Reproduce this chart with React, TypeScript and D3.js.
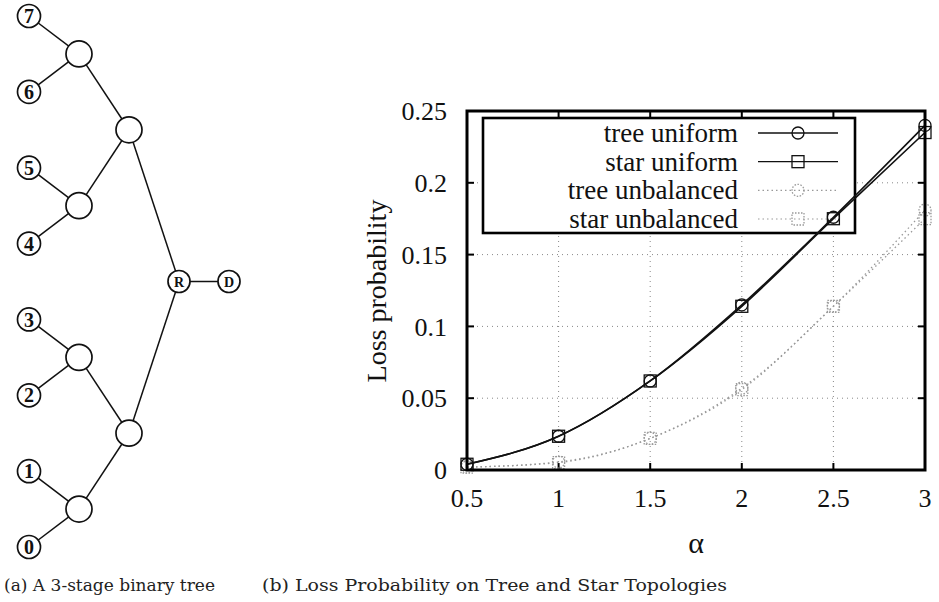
import React from "react";
import * as d3 from "d3";

// ---------- data ----------
const alphas = [0.5, 1, 1.5, 2, 2.5, 3];
const treeUniform = [0.004, 0.0235, 0.062, 0.115, 0.176, 0.24];
const starUniform = [0.004, 0.0235, 0.062, 0.114, 0.175, 0.235];
const treeUnbalanced = [0.002, 0.0056, 0.022, 0.057, 0.114, 0.181];
const starUnbalanced = [0.002, 0.0052, 0.022, 0.056, 0.114, 0.175];
const xTicks = [0.5, 1, 1.5, 2, 2.5, 3];
const yTicks = [0, 0.05, 0.1, 0.15, 0.2, 0.25];
const seriesNames = ["tree uniform", "star uniform", "tree unbalanced", "star unbalanced"];

// tree structure: leaves 0..7, binary tree of 3 stages, root R -> D
const treeData = {
  name: "R",
  children: [
    { name: "", children: [
      { name: "", children: [{ name: "0" }, { name: "1" }] },
      { name: "", children: [{ name: "2" }, { name: "3" }] },
    ] },
    { name: "", children: [
      { name: "", children: [{ name: "4" }, { name: "5" }] },
      { name: "", children: [{ name: "6" }, { name: "7" }] },
    ] },
  ],
};

const serif = "Liberation Serif, Times New Roman, serif";
const capSerif = "DejaVu Serif, serif";

function Tree() {
  const root = d3.hierarchy(treeData);
  const leafY = d3.scaleLinear().domain([0, 7]).range([547, 16]);
  const levelX = d3.scaleLinear().domain([3, 0]).range([29, 179]); // depth 3 = leaves
  root.eachAfter((n: any) => {
    n.px = levelX(n.depth);
    if (!n.children) n.py = leafY(+n.data.name);
    else n.py = d3.mean(n.children, (c: any) => c.py);
  });
  const nodes = root.descendants() as any[];
  const links = root.links() as any[];
  const rootN: any = root;
  const dX = levelX(-1);
  return (
    <g>
      {links.map((l, i) => (
        <line key={i} x1={l.source.px} y1={l.source.py} x2={l.target.px} y2={l.target.py} stroke="#111" strokeWidth={1.5} />
      ))}
      <line x1={rootN.px} y1={rootN.py} x2={dX} y2={rootN.py} stroke="#111" strokeWidth={1.5} />
      {nodes.map((n, i) => {
        const leaf = !n.children;
        const isRoot = n.depth === 0;
        const r = leaf ? 11.5 : isRoot ? 11 : 13;
        return (
          <g key={i}>
            <circle cx={n.px} cy={n.py} r={r} fill="#fff" stroke="#111" strokeWidth={1.7} />
            {n.data.name && (
              <text x={n.px} y={n.py} dy="0.36em" textAnchor="middle" fontFamily={serif} fontWeight="bold"
                fontSize={leaf ? 20 : 14} fill="#111">{n.data.name}</text>
            )}
          </g>
        );
      })}
      <circle cx={dX} cy={rootN.py} r={11} fill="#fff" stroke="#111" strokeWidth={1.7} />
      <text x={dX} y={rootN.py} dy="0.36em" textAnchor="middle" fontFamily={serif} fontWeight="bold" fontSize={14} fill="#111">D</text>
    </g>
  );
}

function Marker({ kind, x, y, color, dashed }: { kind: string; x: number; y: number; color: string; dashed: boolean }) {
  const da = dashed ? "1.5,1.5" : undefined;
  if (kind === "circle")
    return <circle cx={x} cy={y} r={6} fill="none" stroke={color} strokeWidth={1.3} strokeDasharray={da} />;
  return <rect x={x - 6} y={y - 6} width={12} height={12} fill="none" stroke={color} strokeWidth={1.3} strokeDasharray={da} />;
}

function Chart() {
  const L = 467, R = 925, T = 111, B = 470;
  const x = d3.scaleLinear().domain([0.5, 3]).range([L, R]);
  const y = d3.scaleLinear().domain([0, 0.25]).range([B, T]);
  const series = [
    { name: seriesNames[0], values: treeUniform, kind: "circle", color: "#111", dashed: false },
    { name: seriesNames[1], values: starUniform, kind: "square", color: "#111", dashed: false },
    { name: seriesNames[2], values: treeUnbalanced, kind: "circle", color: "#999", dashed: true },
    { name: seriesNames[3], values: starUnbalanced, kind: "square", color: "#999", dashed: true },
  ];
  const line = d3.line<number>().x((_, i) => x(alphas[i])).y((d) => y(d)).curve(d3.curveMonotoneX);
  const legX = 483, legY = 118, legW = 372, legH = 115;
  const rowY = d3.scaleLinear().domain([0, 3]).range([133, 219]);
  const tk = 7;
  return (
    <g>
      {xTicks.slice(1, -1).map((t) => (
        <line key={"gx" + t} x1={x(t)} x2={x(t)} y1={T} y2={B} stroke="#888" strokeWidth={1} strokeDasharray="1,4" />
      ))}
      {yTicks.slice(1, -1).map((t) => (
        <line key={"gy" + t} x1={L} x2={R} y1={y(t)} y2={y(t)} stroke="#888" strokeWidth={1} strokeDasharray="1,4" />
      ))}
      {xTicks.map((t) => (
        <g key={"tx" + t}>
          <line x1={x(t)} x2={x(t)} y1={B} y2={B - tk} stroke="#000" strokeWidth={2} />
          <line x1={x(t)} x2={x(t)} y1={T} y2={T + tk} stroke="#000" strokeWidth={2} />
          <text x={x(t)} y={507} textAnchor="middle" fontFamily={serif} fontSize={26} fill="#111">{t}</text>
        </g>
      ))}
      {yTicks.map((t) => (
        <g key={"ty" + t}>
          <line x1={L} x2={L + tk} y1={y(t)} y2={y(t)} stroke="#000" strokeWidth={2} />
          <line x1={R} x2={R - tk} y1={y(t)} y2={y(t)} stroke="#000" strokeWidth={2} />
          <text x={447} y={y(t)} dy="0.35em" textAnchor="end" fontFamily={serif} fontSize={26} fill="#111">{t}</text>
        </g>
      ))}
      <rect x={legX} y={legY} width={legW} height={legH} fill="#fff" stroke="#000" strokeWidth={2.6} />
      {series.map((s, i) => (
        <g key={"leg" + i}>
          <text x={738} y={rowY(i)} dy="0.33em" textAnchor="end" fontFamily={serif} fontSize={27} fill="#111">{s.name}</text>
          <line x1={758} x2={838} y1={rowY(i)} y2={rowY(i)} stroke={s.color} strokeWidth={s.dashed ? 1.2 : 1.3} strokeDasharray={s.dashed ? "1.5,3" : undefined} />
          <Marker kind={s.kind} x={798} y={rowY(i)} color={s.color} dashed={s.dashed} />
        </g>
      ))}
      {series.slice().reverse().map((s, i) => (
        <g key={"s" + i}>
          <path d={line(s.values) || ""} fill="none" stroke={s.color} strokeWidth={s.dashed ? 1.3 : 1.6} strokeDasharray={s.dashed ? "1.5,3" : undefined} />
          {s.values.map((v, j) => (
            <Marker key={j} kind={s.kind} x={x(alphas[j])} y={y(v)} color={s.color} dashed={s.dashed} />
          ))}
        </g>
      ))}
      <rect x={L} y={T} width={R - L} height={B - T} fill="none" stroke="#000" strokeWidth={3} />
      <text transform={`translate(386,291) rotate(-90)`} textAnchor="middle" fontFamily={serif} fontSize={28} fill="#111">Loss probability</text>
      <text x={696} y={553} textAnchor="middle" fontFamily={serif} fontSize={30} fill="#111">α</text>
    </g>
  );
}

export default function App() {
  return (
    <div style={{ position: "absolute", left: 0, top: 0 }}>
      <svg width={939} height={602} style={{ display: "block", background: "#fff" }}>
        <Tree />
        <Chart />
        <text x={4} y={591} fontFamily={capSerif} fontSize={16} fill="#222" textLength={211} lengthAdjust="spacingAndGlyphs">(a) A 3-stage binary tree</text>
        <text x={262} y={591} fontFamily={capSerif} fontSize={16} fill="#222" textLength={465} lengthAdjust="spacingAndGlyphs">(b) Loss Probability on Tree and Star Topologies</text>
      </svg>
    </div>
  );
}
